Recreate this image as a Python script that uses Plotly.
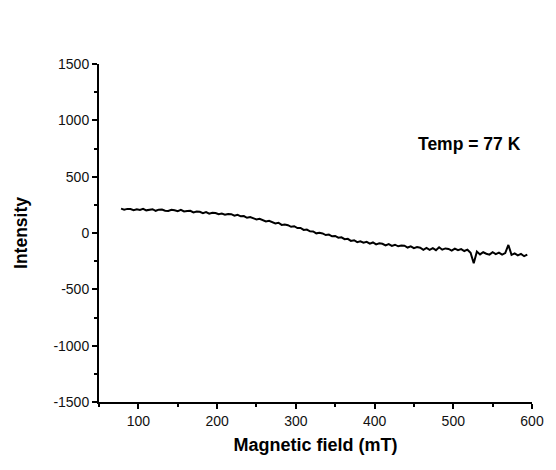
import plotly.graph_objects as go

field_mT = [78, 82, 86, 90, 94, 98, 102, 106, 110, 114, 118, 122, 126, 130, 134, 138, 142, 146, 150, 154,
            158, 162, 166, 170, 174, 178, 182, 186, 190, 194, 198, 202, 206, 210, 214, 218, 222, 226, 230, 234,
            238, 242, 246, 250, 254, 258, 262, 266, 270, 274, 278, 282, 286, 290, 294, 298, 302, 306, 310, 314,
            318, 322, 326, 330, 334, 338, 342, 346, 350, 354, 358, 362, 366, 370, 374, 378, 382, 386, 390, 394,
            398, 402, 406, 410, 414, 418, 422, 426, 430, 434, 438, 442, 446, 450, 454, 458, 462, 466, 470, 474,
            478, 482, 486, 490, 494, 498, 502, 506, 510, 514, 518, 522, 526, 530, 534, 538, 542, 546, 550, 554,
            558, 562, 566, 570, 574, 578, 582, 586, 590, 594]

intensity = [216, 207, 214, 212, 203, 211, 205, 215, 201, 206, 211, 197, 207, 209, 198, 195, 206, 202, 194, 205,
             191, 196, 197, 183, 190, 188, 176, 186, 171, 179, 177, 166, 172, 162, 169, 167, 153, 161, 148, 150,
             135, 141, 134, 121, 126, 117, 103, 108, 99, 85, 91, 72, 76, 69, 55, 60, 44, 45, 27, 31,
             15, 14, -3, 2, -4, -18, -14, -29, -26, -42, -38, -55, -52, -70, -64, -81, -73, -86, -79, -95,
             -84, -101, -92, -96, -110, -99, -114, -104, -118, -112, -113, -129, -118, -134, -125, -130, -150, -133, -149, -135,
             -152, -126, -148, -137, -141, -156, -138, -152, -143, -160, -148, -176, -268, -165, -190, -171, -184, -192, -170, -187,
             -174, -192, -178, -106, -194, -181, -199, -186, -206, -192]

x_ticks = [100, 200, 300, 400, 500, 600]
y_ticks = [-1500, -1000, -500, 0, 500, 1000, 1500]
y_tick_labels = ["-1500", "-1000", "-500", "0", "500", "1000", "1500"]

font_family = "Liberation Sans, Arial, sans-serif"

fig = go.Figure()
fig.add_trace(go.Scatter(x=field_mT, y=intensity, mode="lines",
                         line=dict(color="black", width=2), showlegend=False))

axis_common = dict(showline=True, linecolor="black", linewidth=2, ticks="outside",
                   ticklen=5, tickwidth=1.5, tickcolor="black", showgrid=False, zeroline=False,
                   tickfont=dict(family=font_family, size=14, color="#111"))

fig.update_xaxes(range=[50, 600], tickvals=x_ticks, **axis_common,
                 minor=dict(dtick=50, tick0=50, ticks="outside", ticklen=3, tickcolor="black", tickwidth=1.5),
                 title=dict(text="<b>Magnetic field (mT)</b>", font=dict(family=font_family, size=18, color="black"),
                            standoff=11))
fig.update_yaxes(range=[-1500, 1500], tickvals=y_ticks, ticktext=y_tick_labels, **axis_common,
                 minor=dict(dtick=250, tick0=250, ticks="outside", ticklen=3, tickcolor="black", tickwidth=1.5),
                 title=dict(text="<b>Intensity</b>", font=dict(family=font_family, size=17.5, color="black"),
                            standoff=21))

fig.add_annotation(x=520, y=790, text="<b>Temp = 77 K</b>", showarrow=False,
                   font=dict(family=font_family, size=17.5, color="black"))

fig.update_layout(width=556, height=470, margin=dict(l=99, r=14, t=64, b=68),
                  paper_bgcolor="white", plot_bgcolor="white")

fig.write_html("out.html")
